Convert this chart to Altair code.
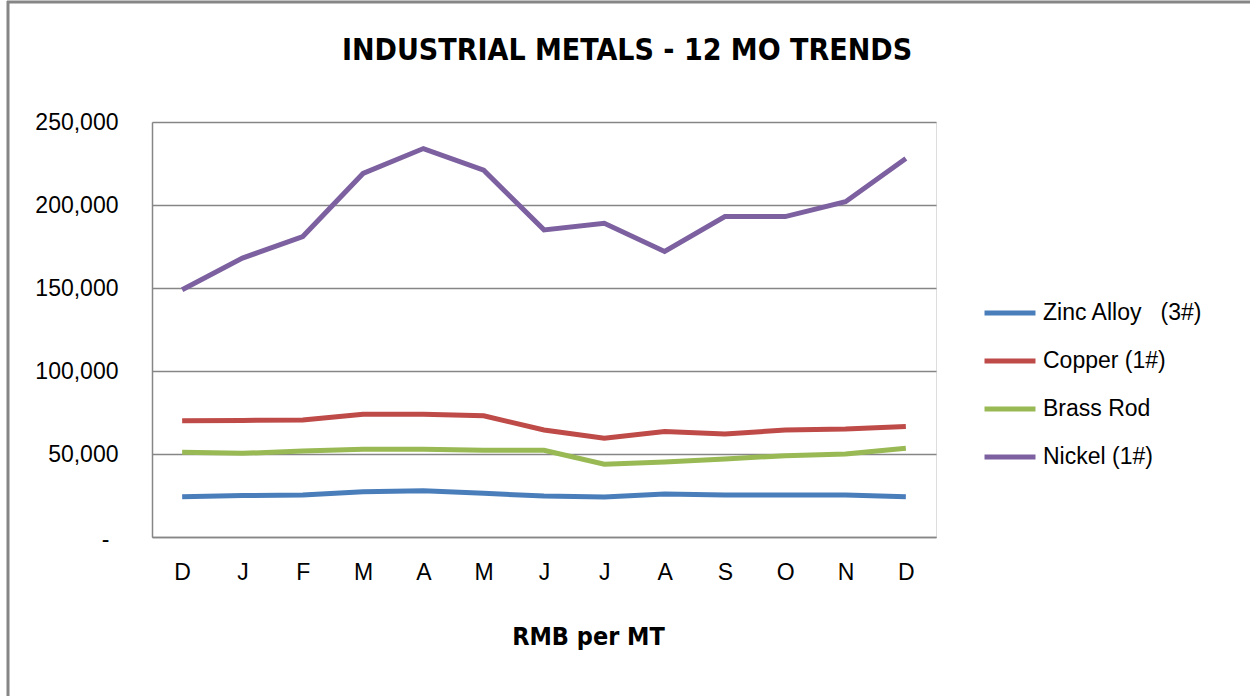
import altair as alt
import pandas as pd
import json

months = ["D", "J", "F", "M", "A", "M", "J", "J", "A", "S", "O", "N", "D"]
series = ["Zinc Alloy\u00a0\u00a0\u00a0(3#)", "Copper (1#)", "Brass Rod", "Nickel (1#)"]
zinc = [24300, 25000, 25300, 27300, 27900, 26300, 24700, 24100, 25900, 25300, 25300, 25300, 24300]
copper = [70000, 70200, 70500, 74000, 74000, 73000, 64500, 59500, 63500, 62000, 64500, 65000, 66500]
brass = [51000, 50400, 51800, 52800, 52800, 52200, 52200, 43800, 45200, 47000, 49000, 50000, 53400]
nickel = [149000, 168000, 181000, 219000, 234000, 221000, 185000, 189000, 172000, 193000, 193000, 202000, 228000]
colors = ["#4a7ebb", "#be4b48", "#98b954", "#7d60a0"]

rows = []
for name, vals in zip(series, [zinc, copper, brass, nickel]):
    for i, v in enumerate(vals):
        rows.append({"idx": i, "series": name, "value": v})
df = pd.DataFrame(rows)

label_expr = json.dumps(months) + "[datum.value]"
narrow = "DejaVu Sans Condensed, Liberation Sans"

base = alt.Chart(df)

lines = base.mark_line(strokeWidth=5, strokeCap="butt").encode(
    x=alt.X("idx:O", scale=alt.Scale(type="point", padding=0.5),
            axis=alt.Axis(title="RMB per MT", labelExpr=label_expr, labelAngle=0,
                          labelFont="Liberation Sans", labelFontSize=23, labelColor="#000000",
                          labelPadding=24, ticks=False, domainColor="#868686", domainWidth=1.5,
                          titleFont=narrow, titleFontSize=25, titleFontWeight="bold",
                          titleColor="#000000", titleX=436, titleY=107, titleBaseline="alphabetic",
                          titleAnchor="start", titleAlign="center", grid=False)),
    y=alt.Y("value:Q", scale=alt.Scale(domain=[0, 250000], nice=False),
            axis=alt.Axis(title=None, values=[0, 50000, 100000, 150000, 200000, 250000],
                          labelExpr="datum.value == 0 ? '-' : format(datum.value, ',')",
                          labelFont="Liberation Sans", labelFontSize=23, labelColor="#000000",
                          labelPadding={"condition": {"test": "datum.value == 0", "value": 43}, "value": 34},
                          labelOffset={"condition": {"test": "datum.value == 0", "value": 2}, "value": 0},
                          ticks=False, domainColor="#868686", domainWidth=1.5,
                          gridColor="#868686", gridWidth=1.5)),
    color=alt.Color("series:N", scale=alt.Scale(domain=series, range=colors),
                    legend=alt.Legend(title=None, orient="none", legendX=830, legendY=163,
                                      symbolType="stroke", symbolStrokeWidth=5, symbolSize=2600,
                                      labelFont="Liberation Sans", labelFontSize=23, labelColor="#000000",
                                      labelOffset=5, rowPadding=8)),
    order=alt.Order("idx:Q"),
)

border = alt.Chart(pd.DataFrame({"a": [0]})).mark_rule(color="#868686", strokeWidth=3).encode(
    x=alt.value(-144), x2=alt.value(-144), y=alt.value(-121), y2=alt.value(600)
)
border_top = alt.Chart(pd.DataFrame({"a": [0]})).mark_rule(color="#868686", strokeWidth=3).encode(
    x=alt.value(-145), x2=alt.value(1200), y=alt.value(-120), y2=alt.value(-120)
)

chart = alt.layer(lines, border, border_top).properties(
    width=784, height=415,
    title=alt.TitleParams("INDUSTRIAL METALS - 12 MO TRENDS", font=narrow,
                          fontSize=30, fontWeight="bold", color="#000000", anchor="middle",
                          baseline="alphabetic", dx=83, dy=94),
    autosize=alt.AutoSizeParams(type="none"),
    padding={"left": 152, "top": 122, "right": 314, "bottom": 159},
).configure_view(stroke=None).configure(background="white")

chart.save("out.html", embed_options={"renderer": "svg", "actions": False})
